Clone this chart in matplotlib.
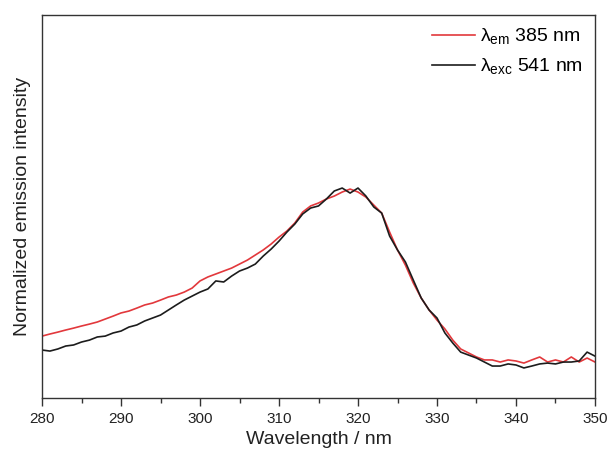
"""Normalized excitation/emission spectra, 280-350 nm."""

import matplotlib

matplotlib.use("Agg")

import matplotlib.pyplot as plt
import numpy as np
from matplotlib.ticker import MultipleLocator

RED, BLACK, SPINE = "#e2383c", "#1c1c1c", "#333333"

wavelength = np.arange(280, 351, 1)

# values, normalized so that the baseline is 0 and the peak 1
em_385 = np.array([
    0.149, 0.161, 0.172, 0.184, 0.195, 0.207, 0.218, 0.230, 0.247, 0.264,
    0.282, 0.293, 0.310, 0.328, 0.339, 0.356, 0.374, 0.385, 0.402, 0.425,
    0.466, 0.489, 0.506, 0.523, 0.540, 0.563, 0.586, 0.615, 0.644, 0.678,
    0.718, 0.753, 0.799, 0.862, 0.897, 0.914, 0.937, 0.954, 0.977, 0.994,
    0.977, 0.948, 0.902, 0.856, 0.747, 0.644, 0.557, 0.454, 0.368, 0.299,
    0.241, 0.190, 0.126, 0.075, 0.052, 0.029, 0.012, 0.012, 0.000, 0.012,
    0.006, -0.006, 0.012, 0.029, 0.000, 0.012, 0.000, 0.029, 0.000, 0.023,
    0.000,
])

exc_541 = np.array([
    0.069, 0.063, 0.075, 0.092, 0.098, 0.115, 0.126, 0.144, 0.149, 0.167,
    0.178, 0.201, 0.213, 0.236, 0.253, 0.270, 0.299, 0.328, 0.356, 0.379,
    0.402, 0.420, 0.466, 0.460, 0.494, 0.523, 0.540, 0.563, 0.609, 0.649,
    0.695, 0.747, 0.793, 0.851, 0.885, 0.897, 0.937, 0.983, 1.000, 0.971,
    1.000, 0.954, 0.891, 0.856, 0.724, 0.644, 0.575, 0.471, 0.368, 0.299,
    0.253, 0.167, 0.109, 0.057, 0.040, 0.023, 0.000, -0.023, -0.023, -0.011,
    -0.017, -0.034, -0.023, -0.011, -0.006, -0.011, 0.000, 0.000, 0.006, 0.057,
    0.034,
])

fig = plt.figure(figsize=(6.09, 4.57), dpi=100)
ax = fig.add_axes([0.069, 0.129, 0.908, 0.838])

ax.plot(wavelength, em_385, color=RED, lw=1.2,
        label="λ$_{\\mathregular{em}}$ 385 nm")
ax.plot(wavelength, exc_541, color=BLACK, lw=1.2,
        label="λ$_{\\mathregular{exc}}$ 541 nm")

ax.set_xlim(280, 350)
ax.set_ylim(-0.207, 1.994)
ax.xaxis.set_major_locator(MultipleLocator(10))
ax.xaxis.set_minor_locator(MultipleLocator(5))
ax.set_yticks([])
ax.tick_params(axis="x", which="major", direction="out", length=6, width=1,
               color=SPINE, labelsize=11, labelcolor="#222222", pad=4)
ax.tick_params(axis="x", which="minor", direction="out", length=3.5, width=1,
               color=SPINE)
for side in ax.spines.values():
    side.set_color(SPINE)
    side.set_linewidth(1)

font = "Liberation Sans"
for lab in ax.get_xticklabels():
    lab.set_family(font)
ax.set_xlabel("Wavelength / nm", fontsize=14, family=font, color="#222222",
              labelpad=4)
ax.set_ylabel("Normalized emission intensity", fontsize=14, family=font,
              color="#222222", labelpad=8)

plt.rcParams["mathtext.fontset"] = "custom"
plt.rcParams["mathtext.rm"] = font
leg = ax.legend(loc="upper right", frameon=False, handlelength=2.2,
                handletextpad=0.3, labelspacing=0.5, borderaxespad=0.2,
                prop={"family": font, "size": 14})

fig.savefig("out.png", dpi=100, facecolor="white")
